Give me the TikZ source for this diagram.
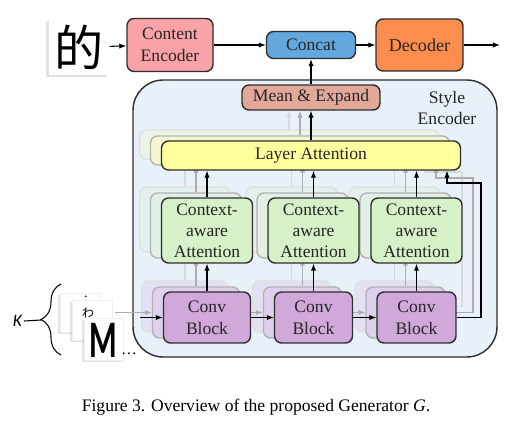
\documentclass[tikz,border=0pt]{standalone}
\usepackage{fontspec}
\setmainfont{Liberation Serif}
\newfontfamily\cjk{Noto Sans CJK SC}
\newfontfamily\labelsans{Carlito}
\usepackage{tikz}
\usetikzlibrary{
  arrows.meta, positioning, calc,
  shadows, decorations.pathreplacing
}
\usepackage{xcolor}
\definecolor{contentPink}{RGB}{249,163,168}
\definecolor{concatBlue}{RGB}{98,168,222}
\definecolor{decoderOrange}{RGB}{255,141,77}
\definecolor{meanSalmon}{RGB}{226,168,152}
\definecolor{styleBg}{RGB}{232,240,250}
\definecolor{layerYellow}{RGB}{255,255,158}
\definecolor{ctxGreen}{RGB}{214,240,200}
\definecolor{convPurple}{RGB}{208,168,218}
\definecolor{edgeGray}{RGB}{45,45,45}

\begin{document}
\begin{tikzpicture}[
  x=0.02cm, y=-0.02cm,
  box/.style={
    rectangle, rounded corners=4pt,
    draw=edgeGray, line width=0.8pt, fill=#1,
    align=center, inner sep=1pt, text=black!85,
    font=\fontsize{10}{12}\selectfont
  },
  gbox/.style={
    rectangle, rounded corners=4pt, line width=0.8pt,
    draw=gray!\edge, fill=#1!\shade!styleBg
  },
  card/.style={
    rectangle, fill=white, draw=gray!12, line width=0.3pt,
    minimum width=0.8cm, minimum height=0.8cm,
    drop shadow={shadow xshift=-1.2pt, shadow yshift=-1.2pt,
      opacity=0.22, fill=gray}
  },
  arr/.style={-{Latex[length=4pt,width=3pt]}, line width=0.6pt, #1},
  arr/.default=black
]
  \useasboundingbox (0,0) rectangle (524,429);

  % Top row
  \node[card, draw=none, minimum width=0.9cm, minimum height=0.98cm,
    font=\cjk\fontsize{28}{28}\selectfont] (char) at (79,47) {的};
  \node[box=contentPink, minimum width=1.72cm, minimum height=1.06cm,
    font=\fontsize{10}{12.5}\selectfont] (content) at (170,45) {Content\\Encoder};
  \node[box=concatBlue, minimum width=1.78cm, minimum height=0.54cm] (concat)
    at (311,45) {Concat};
  \node[box=decoderOrange, minimum width=1.74cm, minimum height=1.04cm,
    font=\fontsize{10.3}{12}\selectfont] (decoder) at (419.5,45) {Decoder};
  \coordinate (out) at (500,45);

  % Style encoder
  \node[rectangle, rounded corners=0.6cm, draw=edgeGray, line width=0.8pt,
    fill=styleBg, minimum width=7.28cm, minimum height=5.54cm] (enc)
    at (315,218.5) {};
  \node[align=center, font=\fontsize{10}{12}\selectfont, text=black!85]
    (enclabel) at (447,108) {Style\\Encoder};
  \node[box=meanSalmon, minimum width=2.76cm, minimum height=0.5cm] (mean)
    at (311,97.5) {Mean \& Expand};

  % ghost copies of the stacked blocks
  \foreach \g/\dx/\dy/\shade/\edge/\lnk in
      {2/-22/-11/22/25/gray!30, 1/-11/-5/45/60/gray!65} {
    \begin{scope}[shift={(\dx,\dy)}]
      \node[gbox=layerYellow, minimum width=5.98cm, minimum height=0.58cm]
        (g\g-la) at (311,155.5) {};
      \foreach \i/\cx/\cw in {1/207/1.74, 2/313.5/1.56, 3/416.5/1.58} {
        \node[gbox=ctxGreen, minimum width=1.82cm, minimum height=1.3cm]
          (g\g-ca\i) at (\cx,230.5) {};
        \node[gbox=convPurple, minimum width=\cw cm, minimum height=1.02cm]
          (g\g-cv\i) at (\cx,317.5) {};
      }
      \foreach \i in {1,2,3} {
        \draw[arr=\lnk] (g\g-cv\i) -- (g\g-ca\i);
        \draw[arr=\lnk] (g\g-ca\i.north) -- (g\g-ca\i.north |- g\g-la.south);
      }
      \foreach \a/\b in {cv1/cv2, cv2/cv3}
        \draw[arr=\lnk] (g\g-\a) -- (g\g-\b);
      \draw[arr=\lnk] (g\g-la.north) -- (g\g-la.north |- mean.south);
      \coordinate (g\g-tap) at (447,183);
      \draw[arr=\lnk] (g\g-cv3.east) -| (484,183) -- (g\g-tap)
        -- (g\g-tap |- g\g-la.south);
    \end{scope}
  }
  \draw[arr=gray!65] (115,312.5) -- (g1-cv1.west);

  % Main blocks
  \node[box=layerYellow, minimum width=5.98cm, minimum height=0.58cm] (la)
    at (311,155.5) {Layer Attention};
  \foreach \i/\cx/\cw in {1/207/1.74, 2/313.5/1.56, 3/416.5/1.58} {
    \node[box=ctxGreen, minimum width=1.82cm, minimum height=1.3cm] (ca\i)
      at (\cx,230.5) {Context-\\aware\\Attention};
    \node[box=convPurple, minimum width=\cw cm, minimum height=1.02cm,
      font=\fontsize{10}{12.5}\selectfont] (cv\i)
      at (\cx,317.5) {Conv\\Block};
  }

  % Input references
  \node[card, minimum width=0.8cm, minimum height=0.78cm] (ref1) at (80,312.5) {};
  \node[card, minimum width=0.8cm, minimum height=0.8cm] (ref2) at (92,320) {};
  \node[card, minimum width=0.78cm, minimum height=0.84cm] (ref3) at (103.5,339) {};
  \node[font=\fontsize{8}{8}\selectfont, inner sep=0pt] (dot1) at (86,299) {·};
  \node[font=\cjk\fontsize{7}{7}\selectfont, inner sep=0pt] (glyph2) at (88,313) {わ};
  \node[font=\labelsans\bfseries\fontsize{30}{30}\selectfont, inner sep=0pt]
    (glyph3) at (103,340) {\scalebox{0.6}[1]{M}};
  \node[font=\fontsize{9}{9}\selectfont, inner sep=0pt] (more) at (129,354) {…};

  \draw[decorate, decoration={brace, amplitude=0.4cm}, line width=0.6pt]
    (61,355) -- (61,284);
  \coordinate (tip) at (41,320);
  \node[font=\labelsans\itshape\fontsize{10}{10}\selectfont, inner sep=1pt]
    (kl) at (17.5,321) {K};
  \draw[line width=0.6pt] (kl.east) -- (tip);

  % Connectors
  \foreach \a/\b in {char/content, content/concat, concat/decoder,
      decoder/out, mean/concat, la/mean, cv1/cv2, cv2/cv3}
    \draw[arr] (\a) -- (\b);
  \foreach \i in {1,2,3} {
    \draw[arr] (cv\i) -- (ca\i);
    \draw[arr] (ca\i.north) -- (ca\i.north |- la.south);
  }
  \coordinate (feed) at (140,317.5);
  \draw[arr] (feed) -- (cv1);
  \coordinate (tap) at (447,183);
  \draw[arr] (cv3.east) -| (481,183) -- (tap) -- (tap |- la.south);

  % Caption
  \node[font=\fontsize{10}{12}\selectfont] (caption) at (256,407)
    {Figure 3. Overview of the proposed Generator \textit{G}.};
\end{tikzpicture}
\end{document}
